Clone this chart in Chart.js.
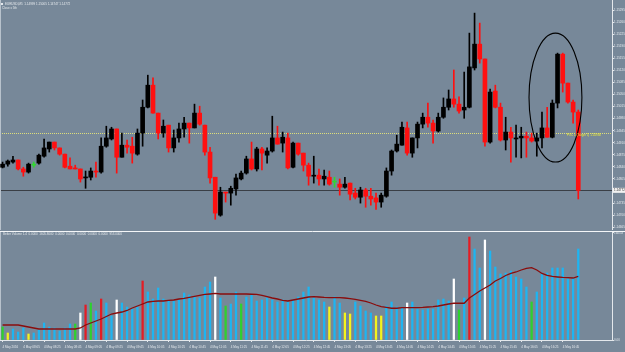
<!DOCTYPE html>
<html lang="en">
<head>
<meta charset="UTF-8">
<title>EURUSD,M5</title>
<script src="https://cdn.jsdelivr.net/npm/chart.js@4"></script>
<style>
    body {
        margin: 0;
        background: #778899;
        width: 625px;
        height: 352px;
        overflow: hidden;
        position: relative;
    }
    #priceBox { position: absolute; left: 0; top: 0; width: 625px; height: 230px; }
    #volBox { position: absolute; left: 0; top: 231px; width: 625px; height: 121px; }
</style>
</head>
<body>

<div id="priceBox"><canvas id="priceChart"></canvas></div>
<div id="volBox"><canvas id="volChart"></canvas></div>

<script>
// ---- data (EURUSD M5, 4 May 2016) ----
const barSlots = 118;            // 112 bars + empty room on the right
const startMinutes = 7 * 60 + 45; // first bar 07:45

const tickLabels = ['4 May 2016', '4 May 08:05', '4 May 08:25', '4 May 08:45', '4 May 09:05', '4 May 09:25',
    '4 May 09:45', '4 May 10:05', '4 May 10:25', '4 May 10:45', '4 May 11:05', '4 May 11:25', '4 May 11:45',
    '4 May 12:05', '4 May 12:25', '4 May 12:45', '4 May 13:05', '4 May 13:25', '4 May 13:45', '4 May 14:05',
    '4 May 14:25', '4 May 14:45', '4 May 15:05', '4 May 15:25', '4 May 15:45', '4 May 16:05', '4 May 16:25',
    '4 May 16:45'];

const priceTicks = [1.15295, 1.15260, 1.15225, 1.15190, 1.15155, 1.15120, 1.15085, 1.15050, 1.15015, 1.14980,
    1.14945, 1.14910, 1.14875, 1.14840, 1.14805, 1.14735, 1.14700, 1.14665];

const open = [
    1.14839, 1.14848, 1.14854, 1.14860, 1.14834, 1.14825, 1.14845, 1.14851, 1.14871, 1.14892,
    1.14912, 1.14895, 1.14877, 1.14842, 1.14837, 1.14834, 1.14808, 1.14810, 1.14828, 1.14825,
    1.14900, 1.14921, 1.14950, 1.14868, 1.14903, 1.14900, 1.14877, 1.14938, 1.15013, 1.15077,
    1.14996, 1.14938, 1.14961, 1.14895, 1.14924, 1.14950, 1.14967, 1.14953, 1.14996, 1.14961,
    1.14883, 1.14810, 1.14700, 1.14767, 1.14764, 1.14776, 1.14805, 1.14822, 1.14863, 1.14834,
    1.14892, 1.14874, 1.14886, 1.14924, 1.14909, 1.14924, 1.14839, 1.14909, 1.14880, 1.14845,
    1.14813, 1.14816, 1.14805, 1.14810, 1.14796, 1.14790, 1.14781, 1.14793, 1.14764, 1.14752,
    1.14773, 1.14755, 1.14750, 1.14738, 1.14755, 1.14828, 1.14886, 1.14903, 1.14953, 1.14880,
    1.14924, 1.14964, 1.14984, 1.14967, 1.14944, 1.14984, 1.15013, 1.15037, 1.15022, 1.15005,
    1.15013, 1.15127, 1.15196, 1.15153, 1.14912, 1.15060, 1.15013, 1.14918, 1.14941, 1.14921,
    1.14924, 1.14929, 1.14924, 1.14915, 1.14924, 1.14953, 1.14926, 1.15025, 1.15167, 1.15083,
    1.15028, 1.14999];
const high = [
    1.14854, 1.14860, 1.14871, 1.14860, 1.14839, 1.14851, 1.14854, 1.14877, 1.14921, 1.14912,
    1.14912, 1.14895, 1.14877, 1.14866, 1.14845, 1.14834, 1.14828, 1.14837, 1.14854, 1.14924,
    1.14958, 1.14955, 1.14950, 1.14938, 1.14918, 1.14926, 1.14950, 1.15034, 1.15106, 1.15098,
    1.14996, 1.14976, 1.14961, 1.14947, 1.14967, 1.14984, 1.14967, 1.15022, 1.15016, 1.14961,
    1.14897, 1.14810, 1.14781, 1.14767, 1.14784, 1.14819, 1.14828, 1.14871, 1.14912, 1.14897,
    1.14897, 1.14895, 1.14987, 1.14958, 1.14941, 1.14938, 1.14912, 1.14909, 1.14880, 1.14851,
    1.14871, 1.14834, 1.14831, 1.14828, 1.14810, 1.14805, 1.14810, 1.14793, 1.14778, 1.14781,
    1.14778, 1.14778, 1.14764, 1.14764, 1.14837, 1.14889, 1.14932, 1.14970, 1.14970, 1.14924,
    1.14970, 1.14996, 1.15025, 1.14976, 1.14996, 1.15040, 1.15063, 1.15121, 1.15043, 1.15115,
    1.15228, 1.15286, 1.15257, 1.15153, 1.15066, 1.15077, 1.15025, 1.14984, 1.14955, 1.14961,
    1.14955, 1.14941, 1.14938, 1.14938, 1.14999, 1.15013, 1.15034, 1.15170, 1.15170, 1.15083,
    1.15034, 1.15005];
const low = [
    1.14837, 1.14842, 1.14851, 1.14831, 1.14813, 1.14822, 1.14839, 1.14848, 1.14868, 1.14883,
    1.14889, 1.14874, 1.14837, 1.14834, 1.14834, 1.14796, 1.14778, 1.14802, 1.14810, 1.14822,
    1.14897, 1.14918, 1.14822, 1.14868, 1.14880, 1.14851, 1.14874, 1.14900, 1.15011, 1.14996,
    1.14921, 1.14926, 1.14883, 1.14883, 1.14912, 1.14926, 1.14909, 1.14953, 1.14961, 1.14874,
    1.14793, 1.14688, 1.14697, 1.14738, 1.14729, 1.14758, 1.14802, 1.14819, 1.14831, 1.14828,
    1.14831, 1.14851, 1.14883, 1.14906, 1.14883, 1.14834, 1.14837, 1.14874, 1.14828, 1.14787,
    1.14793, 1.14787, 1.14787, 1.14787, 1.14781, 1.14758, 1.14778, 1.14744, 1.14747, 1.14735,
    1.14723, 1.14729, 1.14717, 1.14723, 1.14752, 1.14816, 1.14883, 1.14903, 1.14874, 1.14868,
    1.14895, 1.14953, 1.14955, 1.14909, 1.14941, 1.14981, 1.15005, 1.15013, 1.14996, 1.14981,
    1.15011, 1.15121, 1.15141, 1.14900, 1.14909, 1.15011, 1.14915, 1.14889, 1.14854, 1.14868,
    1.14866, 1.14868, 1.14912, 1.14871, 1.14895, 1.14926, 1.14924, 1.15011, 1.15057, 1.15025,
    1.14967, 1.14747];
const close = [
    1.14848, 1.14857, 1.14860, 1.14834, 1.14825, 1.14848, 1.14845, 1.14874, 1.14895, 1.14912,
    1.14895, 1.14877, 1.14839, 1.14834, 1.14834, 1.14805, 1.14810, 1.14828, 1.14825, 1.14900,
    1.14924, 1.14950, 1.14868, 1.14903, 1.14897, 1.14880, 1.14938, 1.15013, 1.15077, 1.14996,
    1.14938, 1.14958, 1.14895, 1.14924, 1.14950, 1.14967, 1.14953, 1.14996, 1.14964, 1.14883,
    1.14808, 1.14706, 1.14767, 1.14764, 1.14778, 1.14808, 1.14822, 1.14863, 1.14834, 1.14892,
    1.14880, 1.14886, 1.14924, 1.14906, 1.14926, 1.14837, 1.14909, 1.14877, 1.14845, 1.14813,
    1.14816, 1.14805, 1.14813, 1.14790, 1.14796, 1.14781, 1.14790, 1.14761, 1.14752, 1.14773,
    1.14755, 1.14747, 1.14738, 1.14758, 1.14828, 1.14886, 1.14906, 1.14955, 1.14880, 1.14924,
    1.14964, 1.14984, 1.14967, 1.14944, 1.14984, 1.15013, 1.15037, 1.15022, 1.15002, 1.15013,
    1.15130, 1.15196, 1.15153, 1.14912, 1.15057, 1.15013, 1.14918, 1.14941, 1.14924, 1.14924,
    1.14929, 1.14924, 1.14915, 1.14924, 1.14953, 1.14926, 1.15025, 1.15167, 1.15083, 1.15028,
    1.14999, 1.14772];

const volume = [
    195, 105, 165, 120, 180, 90, 105, 150, 255, 195,
    180, 135, 180, 240, 240, 405, 525, 555, 435, 615,
    555, 360, 600, 555, 495, 465, 495, 885, 720, 615,
    780, 615, 585, 585, 600, 705, 675, 645, 630, 795,
    870, 945, 630, 510, 540, 720, 540, 645, 675, 585,
    600, 630, 600, 570, 600, 570, 600, 645, 720, 795,
    630, 600, 570, 495, 645, 555, 405, 390, 570, 510,
    435, 405, 360, 360, 510, 570, 495, 480, 555, 570,
    465, 450, 465, 465, 600, 615, 585, 915, 450, 630,
    1545, 1365, 1080, 1500, 1335, 1095, 990, 1005, 1035, 945,
    915, 795, 570, 720, 990, 1005, 1080, 1080, 1080, 915,
    930, 1365];
// N normal, L low volume, U climax up, D climax down, C churn
const volumeType = ('CLNNNLNNNN' + 'NNNNCDUCNU' + 'NNDNNNNUNN' + 'NNNNNNNNNN' + 'NDNCNNCNNN' + 'NNNNNNNNNN' +
    'NNNLNNLLNN' + 'NNLLNNNNDN' + 'NNNNNNNDCN' + 'UNNDNNNNNN' + 'NNCNNNNNNN' + 'NN').split('');
const volumeMA = [
    225, 225, 225, 225, 210, 195, 180, 165, 165, 165,
    165, 165, 165, 165, 165, 180, 225, 255, 285, 315,
    353, 390, 405, 420, 443, 480, 510, 540, 570, 578,
    585, 585, 593, 600, 615, 623, 638, 653, 668, 683,
    690, 698, 690, 690, 690, 690, 690, 690, 686, 683,
    668, 650, 630, 615, 593, 585, 600, 615, 630, 645,
    650, 645, 638, 635, 635, 635, 630, 620, 608, 593,
    578, 555, 525, 500, 488, 476, 476, 485, 485, 485,
    485, 488, 495, 500, 510, 525, 540, 551, 551, 551,
    630, 683, 735, 780, 825, 885, 923, 968, 998, 1020,
    1050, 1073, 1085, 1050, 998, 968, 953, 945, 938, 935,
    930, 953];
const volTicks = [0, 1605.8];

const bidPrice = 1.14772;
const pocPrice = 1.14938;
const priceMin = 1.14657;
const priceMax = 1.15324;
// hand-drawn ellipse around the spike (bar index / price units)
const ring = { bar: 106.6, price: 1.15041, halfBars: 5.1, halfPrice: 0.00187 };

// ---- build ----
const barTimes = [];
for (let i = 0; i < barSlots; i++) {
    const m = startMinutes + i * 5;
    barTimes.push(String(Math.floor(m / 60)).padStart(2, '0') + ':' + String(m % 60).padStart(2, '0'));
}

const AXIS = '#e4e8ec';
const FONT = 'Liberation Sans';
Chart.defaults.font.family = FONT;
Chart.defaults.font.size = 3;

const volColors = { N: '#1db5f2', L: '#f4f41c', U: '#e41c24', D: '#ffffff', C: '#2ed12e' };

function candleColor(i) {
    if (close[i] > open[i]) return '#000000';
    if (close[i] < open[i]) return '#ff1010';
    return '#30d830';
}
const bodyColors = open.map((_, i) => candleColor(i));

function noPad(s) {
    s.paddingTop = 0; s.paddingBottom = 0; s.paddingLeft = 0; s.paddingRight = 0;
}

const priceDecor = {
    id: 'priceDecor',
    beforeDatasetsDraw(chart) {
        const { ctx, chartArea: a, scales: { y } } = chart;
        ctx.save();
        ctx.lineWidth = 1;
        const yp = Math.round(y.getPixelForValue(pocPrice)) + 0.5;
        ctx.strokeStyle = '#dede7a';
        ctx.setLineDash([1, 1]);
        ctx.beginPath(); ctx.moveTo(a.left, yp); ctx.lineTo(a.right, yp); ctx.stroke();
        const yb = Math.round(y.getPixelForValue(bidPrice)) + 0.5;
        ctx.setLineDash([]);
        ctx.strokeStyle = '#3a3f46';
        ctx.beginPath(); ctx.moveTo(a.left, yb); ctx.lineTo(a.right, yb); ctx.stroke();
        // left frame line
        ctx.strokeStyle = '#b8c2cc';
        ctx.beginPath(); ctx.moveTo(0.5, 0); ctx.lineTo(0.5, a.bottom); ctx.stroke();
        ctx.restore();
    },
    afterDatasetsDraw(chart) {
        const { ctx, chartArea: a, scales: { x, y } } = chart;
        ctx.save();
        // ellipse
        const cx = x.getPixelForValue(ring.bar);
        const rx = x.getPixelForValue(ring.bar + ring.halfBars) - cx;
        const cy = y.getPixelForValue(ring.price);
        const ry = cy - y.getPixelForValue(ring.price + ring.halfPrice);
        ctx.strokeStyle = '#000000';
        ctx.lineWidth = 1.1;
        ctx.beginPath(); ctx.ellipse(cx, cy, rx, ry, 0, 0, Math.PI * 2); ctx.stroke();
        // POC label
        ctx.font = '3px ' + FONT;
        ctx.fillStyle = '#eaea3c';
        ctx.textAlign = 'right';
        ctx.textBaseline = 'middle';
        ctx.fillText('POC 1 (Target 1) ' + pocPrice.toFixed(5), a.right - 11, y.getPixelForValue(pocPrice) + 2);
        // header
        ctx.fillStyle = AXIS;
        ctx.textAlign = 'left';
        ctx.fillRect(1, 3, 2, 2);
        ctx.fillText('EURUSD,M5  ' + open[111].toFixed(5) + ' ' + high[111].toFixed(5) + ' ' +
            low[111].toFixed(5) + ' ' + close[111].toFixed(5), 5, 4);
        ctx.fillText('Close x 5th', 2, 8);
        ctx.restore();
    },
    afterDraw(chart) {
        const { ctx, chartArea: a, scales: { y } } = chart;
        const yb = y.getPixelForValue(bidPrice);
        ctx.save();
        ctx.fillStyle = '#f2f2f2';
        ctx.fillRect(a.right + 1, yb - 2.5, 13, 5);
        ctx.fillStyle = '#2a2a2a';
        ctx.font = '3px ' + FONT;
        ctx.textBaseline = 'middle';
        ctx.fillText(bidPrice.toFixed(5), a.right + 2, yb);
        ctx.restore();
    }
};

new Chart(document.getElementById('priceChart'), {
    type: 'bar',
    data: {
        labels: barTimes,
        datasets: [{
            label: 'body',
            data: open.map((o, i) => [o, close[i]]),
            backgroundColor: bodyColors,
            barThickness: 4,
            minBarLength: 1,
            grouped: false,
            order: 0
        }, {
            label: 'wick',
            data: high.map((h, i) => [low[i], h]),
            backgroundColor: bodyColors,
            barThickness: 1,
            grouped: false,
            order: 1
        }]
    },
    options: {
        responsive: true,
        maintainAspectRatio: false,
        animation: false,
        events: [],
        layout: { padding: 0 },
        plugins: { legend: { display: false }, tooltip: { enabled: false } },
        scales: {
            x: { type: 'category', offset: true, display: false },
            y: {
                position: 'right',
                min: priceMin,
                max: priceMax,
                afterBuildTicks: s => { s.ticks = priceTicks.map(v => ({ value: v })); },
                ticks: { color: AXIS, padding: 0, font: { size: 3 }, callback: v => v.toFixed(5) },
                grid: { drawOnChartArea: false, tickLength: 2, color: AXIS },
                border: { color: AXIS },
                afterFit: s => { s.width = 13; noPad(s); }
            }
        }
    },
    plugins: [priceDecor]
});

const volDecor = {
    id: 'volDecor',
    beforeDatasetsDraw(chart) {
        const { ctx, chartArea: a } = chart;
        ctx.save();
        ctx.strokeStyle = '#f4f6f8';
        ctx.lineWidth = 1;
        ctx.beginPath(); ctx.moveTo(0, 0.5); ctx.lineTo(chart.width, 0.5); ctx.stroke();
        ctx.strokeStyle = '#b8c2cc';
        ctx.beginPath(); ctx.moveTo(0.5, 1); ctx.lineTo(0.5, a.bottom); ctx.stroke();
        ctx.restore();
    },
    afterDatasetsDraw(chart) {
        const { ctx } = chart;
        ctx.save();
        ctx.font = '3px ' + FONT;
        ctx.fillStyle = AXIS;
        ctx.textBaseline = 'middle';
        ctx.fillText('Better Volume 1.4  0.0000  1605.8000  0.0000  0.0000  0.0000  0.0000  0.0000  ' +
            volumeMA[volumeMA.length - 1].toFixed(4), 3, 3);
        ctx.restore();
    }
};

new Chart(document.getElementById('volChart'), {
    type: 'bar',
    data: {
        labels: barTimes,
        datasets: [{
            type: 'line',
            data: volumeMA,
            borderColor: '#8a0c0c',
            borderWidth: 1.3,
            pointRadius: 0,
            tension: 0,
            order: 0
        }, {
            type: 'bar',
            data: volume,
            backgroundColor: volumeType.map(t => volColors[t]),
            barThickness: 1.6,
            order: 1
        }]
    },
    options: {
        responsive: true,
        maintainAspectRatio: false,
        animation: false,
        events: [],
        layout: { padding: 0 },
        plugins: { legend: { display: false }, tooltip: { enabled: false } },
        scales: {
            x: {
                type: 'category',
                offset: true,
                grid: {
                    offset: false,
                    drawOnChartArea: false,
                    tickLength: 2,
                    color: c => (c.index % 4 === 0 && c.index / 4 < tickLabels.length) ? AXIS : 'rgba(0,0,0,0)'
                },
                border: { color: AXIS },
                ticks: {
                    autoSkip: false,
                    maxRotation: 0,
                    align: 'start',
                    padding: 3,
                    color: AXIS,
                    font: { size: 3 },
                    callback: (v, i) => (i % 4 === 0 && tickLabels[i / 4]) ? tickLabels[i / 4] : ''
                },
                afterFit: s => { s.height = 12; noPad(s); }
            },
            y: {
                position: 'right',
                min: 0,
                max: 1635,
                afterBuildTicks: s => { s.ticks = volTicks.map(v => ({ value: v })); },
                ticks: { color: AXIS, padding: 0, font: { size: 3 }, callback: v => v === 0 ? '0.00' : v.toFixed(1) },
                grid: { drawOnChartArea: false, tickLength: 2, color: AXIS },
                border: { color: AXIS },
                afterFit: s => { s.width = 13; noPad(s); }
            }
        }
    },
    plugins: [volDecor]
});
</script>
</body>
</html>
